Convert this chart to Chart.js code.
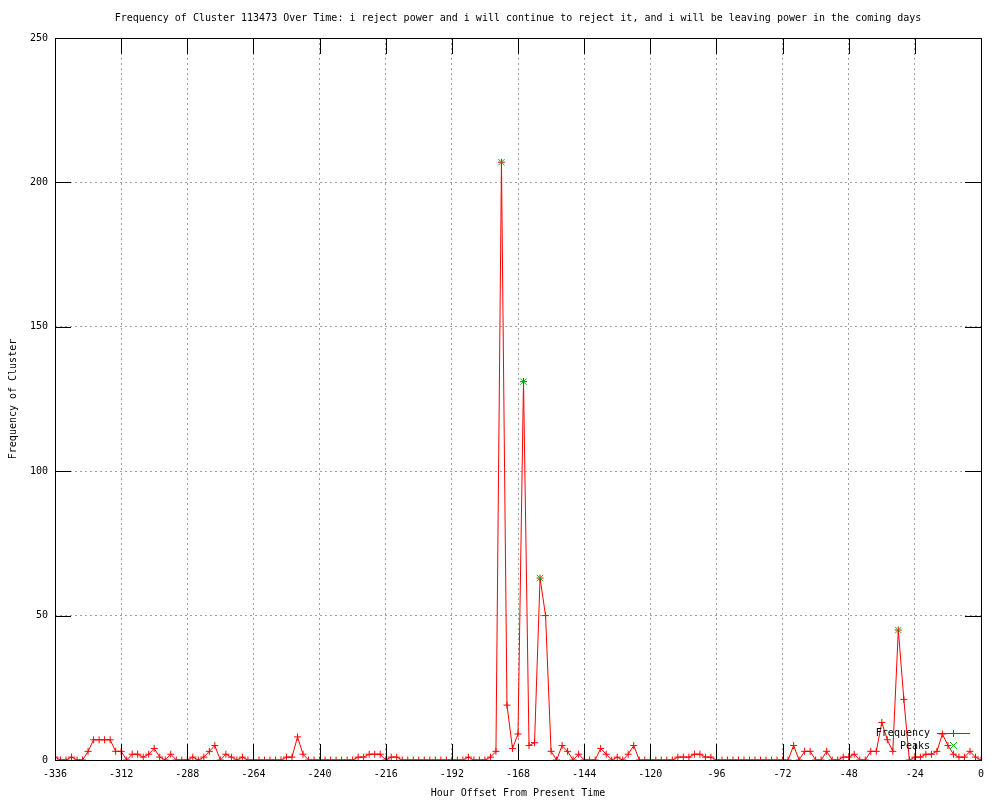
<!DOCTYPE html>
<html>
<head>
<meta charset="utf-8">
<script src="https://cdn.jsdelivr.net/npm/chart.js@4"></script>
<style>
  body { margin: 0; background: #fff; }
  canvas { display: block; }
</style>
</head>
<body>
<canvas id="myChart" width="1000" height="800"></canvas>
<script>
// one reading every 2 hours, from -336 up to 0
const startHour = -336;
const hourStep = 2;
const frequency = [
  1, 0, 0, 1, 0, 0, 3, 7, 7, 7, 7, 3,
  3, 0, 2, 2, 1, 2, 4, 1, 0, 2, 0, 0,
  0, 1, 0, 1, 3, 5, 0, 2, 1, 0, 1, 0,
  0, 0, 0, 0, 0, 0, 1, 1, 8, 2, 0, 0,
  0, 0, 0, 0, 0, 0, 0, 1, 1, 2, 2, 2,
  0, 1, 1, 0, 0, 0, 0, 0, 0, 0, 0, 0,
  0, 0, 0, 1, 0, 0, 0, 1, 3, 207, 19, 4,
  9, 131, 5, 6, 63, 50, 3, 0, 5, 3, 0, 2,
  0, 0, 0, 4, 2, 0, 1, 0, 2, 5, 0, 0,
  0, 0, 0, 0, 0, 1, 1, 1, 2, 2, 1, 1,
  0, 0, 0, 0, 0, 0, 0, 0, 0, 0, 0, 0,
  0, 0, 5, 0, 3, 3, 0, 0, 3, 0, 0, 1,
  1, 2, 0, 0, 3, 3, 13, 7, 3, 45, 21, 0,
  1, 1, 2, 2, 3, 9, 5, 2, 1, 1, 3, 1,
  0
];
const hours = frequency.map((v, i) => startHour + i * hourStep);

const peakHours = [-174, -166, -160, -30];
const peakValues = [207, 131, 63, 45];

const xTicks = [-336, -312, -288, -264, -240, -216, -192, -168, -144, -120, -96, -72, -48, -24, 0];
const yTicks = [0, 50, 100, 150, 200, 250];

const titleText = 'Frequency of Cluster 113473 Over Time: i reject power and i will continue to reject it, and i will be leaving power in the coming days';

const FONT = 'DejaVu Sans Mono';
const RED = 'rgb(255,0,0)';
const GREEN = 'rgb(0,192,0)';

Chart.defaults.font.family = FONT;
Chart.defaults.font.size = 10;
Chart.defaults.color = '#000';

// hide the dotted grid where it would sit on the frame
function gridColor(c) {
  const s = c.scale;
  if (c.tick && (c.tick.value === s.min || c.tick.value === s.max)) return 'rgba(0,0,0,0)';
  return '#a0a0a0';
}

function drawKey(ctx) {
  ctx.save();
  ctx.setLineDash([]);
  ctx.lineWidth = 1;
  ctx.font = '10px "' + FONT + '"';
  ctx.fillStyle = '#000';
  ctx.textAlign = 'right';
  ctx.textBaseline = 'middle';
  ctx.fillText('Frequency', 930, 733);
  ctx.fillText('Peaks', 930, 746);

  ctx.strokeStyle = RED;
  ctx.beginPath();
  ctx.moveTo(937, 733.5);
  ctx.lineTo(970, 733.5);
  ctx.stroke();
  ctx.beginPath();
  ctx.moveTo(953.5, 730);
  ctx.lineTo(953.5, 737);
  ctx.stroke();

  ctx.strokeStyle = GREEN;
  ctx.beginPath();
  ctx.moveTo(950, 742);
  ctx.lineTo(957, 749);
  ctx.moveTo(957, 742);
  ctx.lineTo(950, 749);
  ctx.stroke();
  ctx.restore();
}

const gnuplotFrame = {
  id: 'gnuplotFrame',
  beforeDraw(chart) {
    const ctx = chart.ctx;
    ctx.save();
    ctx.fillStyle = '#fff';
    ctx.fillRect(0, 0, chart.width, chart.height);
    ctx.restore();
  },
  afterDraw(chart) {
    const ctx = chart.ctx;
    const a = chart.chartArea;
    const xs = chart.scales.x;
    const ys = chart.scales.y;
    const len = 16;
    ctx.save();
    ctx.strokeStyle = '#000';
    ctx.lineWidth = 1;
    ctx.setLineDash([]);
    ctx.beginPath();
    xTicks.forEach(t => {
      const px = Math.round(xs.getPixelForValue(t)) + 0.5;
      ctx.moveTo(px, a.bottom); ctx.lineTo(px, a.bottom - len);
      ctx.moveTo(px, a.top); ctx.lineTo(px, a.top + len);
    });
    yTicks.forEach(t => {
      const py = Math.round(ys.getPixelForValue(t)) + 0.5;
      ctx.moveTo(a.left, py); ctx.lineTo(a.left + len, py);
      ctx.moveTo(a.right, py); ctx.lineTo(a.right - len, py);
    });
    ctx.stroke();
    ctx.strokeRect(Math.round(a.left) + 0.5, Math.round(a.top) + 0.5,
                   Math.round(a.right - a.left), Math.round(a.bottom - a.top));

    // title centred over the plot, as gnuplot does
    ctx.font = '10px "' + FONT + '"';
    ctx.fillStyle = '#000';
    ctx.textAlign = 'center';
    ctx.textBaseline = 'middle';
    ctx.fillText(titleText, (a.left + a.right) / 2, 18);
    ctx.restore();

    drawKey(ctx);
  }
};

const ctx = document.getElementById('myChart').getContext('2d');

new Chart(ctx, {
  type: 'line',
  data: {
    datasets: [
      {
        label: 'Peaks',
        data: peakHours.map((h, i) => ({ x: h, y: peakValues[i] })),
        showLine: false,
        pointStyle: 'crossRot',
        pointRadius: 4.5,
        pointBorderWidth: 1,
        borderColor: GREEN,
        backgroundColor: GREEN,
        order: 0
      },
      {
        label: 'Frequency',
        data: hours.map((h, i) => ({ x: h, y: frequency[i] })),
        borderColor: RED,
        backgroundColor: RED,
        borderWidth: 1,
        pointStyle: 'cross',
        pointRadius: 3.5,
        pointBorderWidth: 1,
        tension: 0,
        order: 1
      }
    ]
  },
  plugins: [gnuplotFrame],
  options: {
    responsive: false,
    animation: false,
    events: [],
    layout: { padding: { left: 0, right: 19, top: 38, bottom: 0 } },
    plugins: {
      legend: { display: false },
      tooltip: { enabled: false },
      title: { display: false }
    },
    scales: {
      x: {
        type: 'linear',
        min: -336,
        max: 0,
        afterBuildTicks: s => { s.ticks = xTicks.map(v => ({ value: v })); },
        afterFit: s => { s.height = 40; },
        ticks: { padding: 8, maxRotation: 0, autoSkip: false, color: '#000' },
        grid: { color: gridColor, drawTicks: false, lineWidth: 1 },
        border: { display: false, dash: [2, 3] },
        title: {
          display: true,
          text: 'Hour Offset From Present Time',
          font: { family: FONT, size: 10 },
          color: '#000',
          padding: { top: 0, bottom: 1 }
        }
      },
      y: {
        min: 0,
        max: 250,
        afterBuildTicks: s => { s.ticks = yTicks.map(v => ({ value: v })); },
        afterFit: s => { s.width = 55; },
        ticks: { padding: 7, color: '#000' },
        grid: { color: gridColor, drawTicks: false, lineWidth: 1 },
        border: { display: false, dash: [2, 3] },
        title: {
          display: true,
          text: 'Frequency of Cluster',
          font: { family: FONT, size: 10 },
          color: '#000',
          padding: { top: 7, bottom: 0 }
        }
      }
    }
  }
});
</script>
</body>
</html>
